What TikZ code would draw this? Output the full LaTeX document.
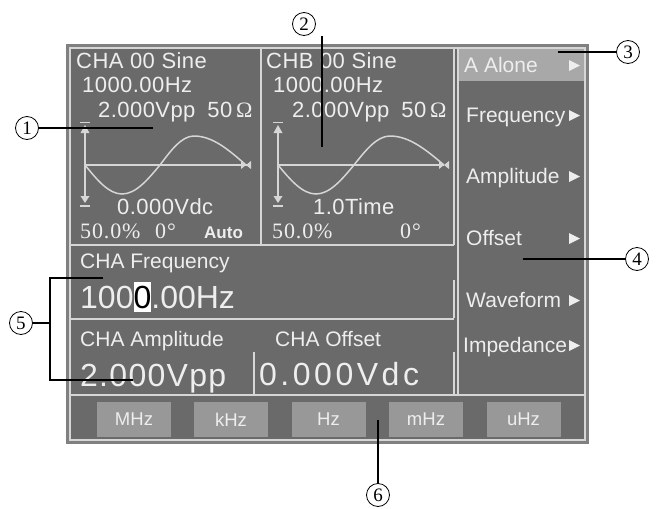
\documentclass[tikz,border=0pt]{standalone}
\usepackage{fontspec}
\setmainfont{Liberation Sans}
\newfontfamily\scrfont[LetterSpace=2]{Liberation Sans}
\newfontfamily\bigfont{Liberation Sans}
\newfontfamily\wbigfont[LetterSpace=4]{Liberation Sans}
\newfontfamily\xbigfont[LetterSpace=11]{Liberation Sans}
\newfontfamily\numfont[LetterSpace=4]{Liberation Serif}
\newfontfamily\markfont{Liberation Serif}
\usetikzlibrary{calc}
\definecolor{scr}{RGB}{106,106,106}
\definecolor{rim}{RGB}{128,128,128}
\definecolor{edge}{RGB}{214,214,214}
\definecolor{btn}{RGB}{152,152,152}
\definecolor{hil}{RGB}{168,168,168}
\definecolor{txt}{RGB}{238,238,238}

\tikzset{
  scrtext/.style={anchor=base west, inner sep=0pt, text=txt, font=\scrfont\fontsize{22}{22}\selectfont},
  labtext/.style={scrtext, font=\bigfont\fontsize{21}{21}\selectfont},
  pcttext/.style={scrtext, font=\numfont\fontsize{22}{22}\selectfont},
  menutext/.style={scrtext, font=\bigfont\fontsize{21}{21}\selectfont},
  bigtext/.style={scrtext, font=\bigfont\fontsize{32}{32}\selectfont},
  keybox/.style={fill=btn, text=txt, minimum width=74pt, minimum height=35pt, inner sep=0pt, font=\bigfont\fontsize{18.5}{18.5}\selectfont},
  callout/.style={circle, draw, line width=0.8pt, minimum size=23pt, inner sep=0pt, font=\markfont\fontsize{19}{19}\selectfont},
  lead/.style={line width=1.8pt},
  panel/.style={draw=edge, line width=1.3pt},
  wave/.style={draw=edge, line width=1.5pt},
}

\begin{document}
\begin{tikzpicture}[x=1pt,y=-1pt]
\useasboundingbox (0,0) rectangle (662,509);
\fill[rim] (66,44) rectangle (589,444);
\fill[scr] (70,48) rectangle (585,440);
\fill[hil] (458,48) rectangle (585,81);
\draw[panel] (70,48) rectangle (585,440);
\draw[panel] (261,48)--(261,245);
\draw[panel] (454,48)--(454,245);
\draw[panel] (458,48)--(458,395);
\draw[panel] (70,245)--(454,245);
\draw[panel] (70,319)--(454,319);
\draw[panel] (70,395)--(585,395);
\draw[panel] (454,280)--(454,318);
\draw[panel] (454,352)--(454,394);
\draw[panel] (254,352)--(254,394);

	\node[scrtext] (chaname) at (76,68) {CHA 00 Sine};
	\node[scrtext] (chafreq) at (82,92) {1000.00Hz};
	\node[scrtext] (chaamp) at (98,117) {2.000Vpp\hspace{12pt}50\,{\markfont Ω}};
	\node[scrtext] (chadc) at (117,214) {0.000Vdc};
	\node[pcttext] (chaduty) at (80,238) {50.0\%};
	\node[pcttext] (chaphase) at (155,238) {0°};
	\node[scrtext, font=\bigfont\bfseries\fontsize{17}{17}\selectfont] (chaauto) at (204,238) {Auto};
	\node[scrtext] (chbname) at (266,68) {CHB 00 Sine};
	\node[scrtext] (chbfreq) at (273,92) {1000.00Hz};
	\node[scrtext] (chbamp) at (292,117) {2.000Vpp\hspace{12pt}50\,{\markfont Ω}};
	\node[scrtext] (chbtime) at (313,214) {1.0Time};
	\node[pcttext] (chbduty) at (272,238) {50.0\%};
	\node[pcttext] (chbphase) at (400,238) {0°};

\draw[wave] (85,165)--(247,165);
\draw[wave] (85,129)--(85,199);
\fill[edge] (85,125)--(89.5,133)--(80.5,133)--cycle;
\fill[edge] (80.5,196)--(89.5,196)--(85,203)--cycle;
\draw[edge, line width=1.2pt] (80,122.5)--(90,122.5);
\draw[edge, line width=1.2pt] (80,206)--(90,206);
\draw[wave] (85,165) sin (122,194) cos (160,165) sin (194,136) cos (246,165);
\fill[edge] (241,161)--(246,165)--(241,169)--cycle;
\fill[edge] (251,161)--(246,165)--(251,169)--cycle;

\draw[wave] (278,165)--(444,165);
\draw[wave] (278,129)--(278,199);
\fill[edge] (278,125)--(282.5,133)--(273.5,133)--cycle;
\fill[edge] (273.5,196)--(282.5,196)--(278,203)--cycle;
\draw[edge, line width=1.2pt] (273,122.5)--(283,122.5);
\draw[edge, line width=1.2pt] (273,206)--(283,206);
\draw[wave] (278,165) sin (316,194) cos (354,165) sin (390,136) cos (444,165);
\fill[edge] (439,161)--(444,165)--(439,169)--cycle;
\fill[edge] (449,161)--(444,165)--(449,169)--cycle;

	\node[labtext] (frqlabel) at (80,268) {CHA Frequency};
	\node[bigtext] (frqvalue) at (80,308) {100{\setlength\fboxsep{0pt}\colorbox{white}{\textcolor{black}{\rule[-4pt]{0pt}{30pt}0}}}.00Hz};
	\node[labtext] (amplabel) at (80,346) {CHA Amplitude};
	\node[labtext] (offlabel) at (275,346) {CHA Offset};
	\node[bigtext, font=\wbigfont\fontsize{32}{32}\selectfont] (ampvalue) at (80,386) {2.000Vpp};
	\node[bigtext, font=\xbigfont\fontsize{32}{32}\selectfont] (offvalue) at (259,385) {0.000Vdc};

	\node[menutext] (malone) at (464,72) {A Alone};
	\node[menutext] (mfreq) at (466,122) {Frequency};
	\node[menutext] (mamp) at (466,183) {Amplitude};
	\node[menutext] (moff) at (466,245) {Offset};
	\node[menutext] (mwave) at (466,307) {Waveform};
	\node[menutext] (mimp) at (463,352) {Impedance};
\foreach \yb in {72,122,183,245,307,352}
  \fill[txt] (569,\yb-12)--(580,\yb-6.5)--(569,\yb-1)--cycle;

	\node[keybox] (kmhz) at (134,419.5) {MHz};
	\node[keybox] (kkhz) at (231,419.5) {kHz};
	\node[keybox] (khz) at (328.5,419.5) {Hz};
	\node[keybox] (kmilli) at (426,419.5) {mHz};
	\node[keybox] (kmicro) at (523.5,419.5) {uHz};

	\node[callout] (c1) at (27,128) {1};
	\node[callout] (c2) at (304,24) {2};
	\node[callout] (c3) at (628,52) {3};
	\node[callout] (c4) at (637,259) {4};
	\node[callout] (c5) at (21,323) {5};
	\node[callout] (c6) at (378,495) {6};
\coordinate (e1) at (153,128);
\coordinate (e2) at (322,147);
\coordinate (e3) at (558,52);
\coordinate (e4) at (523,259);
\coordinate (k5) at (50,323);
\coordinate (t5) at (103,278);
\coordinate (b5) at (133,380);
\coordinate (e6) at (378,420);
\draw[lead] (c1)--(e1);
\draw[lead] (e2 |- c2.south)--(e2);
\draw[lead] (c3)--(e3);
\draw[lead] (c4)--(e4);
\draw[lead] (c5)--(k5);
\draw[lead] (t5) -| (k5) |- (b5);
\draw[lead] (c6)--(e6);
\end{tikzpicture}
\end{document}
